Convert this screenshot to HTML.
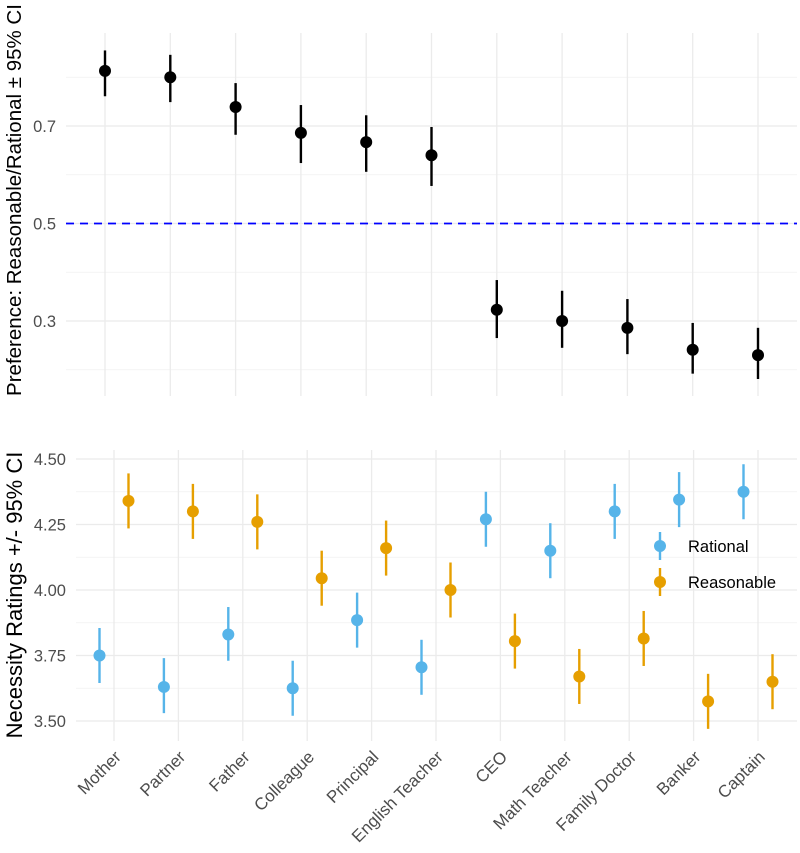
<!DOCTYPE html>
<html><head><meta charset="utf-8"><style>body{margin:0;background:#fff}svg{display:block;font-family:"Liberation Sans",Arial,sans-serif}</style></head>
<body>
<svg id="c" width="800" height="853"></svg>
<script>
const categories=["Mother","Partner","Father","Colleague","Principal","English Teacher","CEO","Math Teacher","Family Doctor","Banker","Captain"];
const prefMean=[0.813,0.800,0.739,0.686,0.667,0.640,0.323,0.300,0.286,0.241,0.230];
const prefLo=[0.761,0.749,0.682,0.624,0.606,0.577,0.265,0.245,0.232,0.192,0.181];
const prefHi=[0.855,0.846,0.788,0.743,0.722,0.698,0.384,0.362,0.345,0.296,0.286];
const ratMean=[3.75,3.63,3.83,3.625,3.885,3.705,4.27,4.15,4.30,4.345,4.375];
const ratLo=[3.645,3.53,3.73,3.52,3.78,3.60,4.165,4.045,4.195,4.24,4.27];
const ratHi=[3.855,3.74,3.935,3.73,3.99,3.81,4.375,4.255,4.405,4.45,4.48];
const reaMean=[4.34,4.30,4.26,4.045,4.16,4.00,3.805,3.67,3.815,3.575,3.65];
const reaLo=[4.235,4.195,4.155,3.94,4.055,3.895,3.70,3.565,3.71,3.47,3.545];
const reaHi=[4.445,4.405,4.365,4.15,4.265,4.105,3.91,3.775,3.92,3.68,3.755];
const topTicks=[0.3,0.5,0.7];
const topMinor=[0.2,0.4,0.6,0.8];
const botTicks=[3.5,3.75,4.0,4.25,4.5];
const botTickLabels=["3.50","3.75","4.00","4.25","4.50"];
const botMinor=[3.625,3.875,4.125,4.375];

const svg=document.getElementById('c');
const NS='http://www.w3.org/2000/svg';
function mk(t,a,p){const e=document.createElementNS(NS,t);for(const k in a)e.setAttribute(k,a[k]);(p||svg).appendChild(e);return e;}
const LT=66,LB=76,R=797;
const xt=i=>105+i*65.3;
const xb=i=>114+i*64.4;
const yT=v=>126+(0.7-v)*487.5;
const yB=v=>721-(v-3.5)*262;

let g=mk('g',{});
topMinor.forEach(v=>mk('line',{x1:LT,x2:R,y1:yT(v),y2:yT(v),stroke:'#f0f0f0','stroke-width':0.8},g));
topTicks.forEach(v=>mk('line',{x1:LT,x2:R,y1:yT(v),y2:yT(v),stroke:'#ebebeb','stroke-width':1.3},g));
categories.forEach((c,i)=>mk('line',{x1:xt(i),x2:xt(i),y1:33,y2:396,stroke:'#ebebeb','stroke-width':1.3},g));
let g2=mk('g',{});
botMinor.forEach(v=>mk('line',{x1:LB,x2:R,y1:yB(v),y2:yB(v),stroke:'#f0f0f0','stroke-width':0.8},g2));
botTicks.forEach(v=>mk('line',{x1:LB,x2:R,y1:yB(v),y2:yB(v),stroke:'#ebebeb','stroke-width':1.3},g2));
categories.forEach((c,i)=>mk('line',{x1:xb(i),x2:xb(i),y1:450,y2:741,stroke:'#ebebeb','stroke-width':1.3},g2));

topTicks.forEach(v=>{const t=mk('text',{x:56,y:yT(v)+6,'text-anchor':'end','font-size':16.5,fill:'#4d4d4d'});t.textContent=v.toFixed(1);
});
botTicks.forEach((v,i)=>{const t=mk('text',{x:66,y:yB(v)+6,'text-anchor':'end','font-size':16.5,fill:'#4d4d4d'});t.textContent=botTickLabels[i];
});

const ref=mk('line',{x1:LT,x2:R,y1:yT(0.5),y2:yT(0.5),stroke:'#0000ff','stroke-width':1.8,'stroke-dasharray':'8,6'});


categories.forEach((c,i)=>{
 const l=mk('line',{x1:xt(i),x2:xt(i),y1:yT(prefLo[i]),y2:yT(prefHi[i]),stroke:'#000','stroke-width':2.4});
 
 const p=mk('circle',{cx:xt(i),cy:yT(prefMean[i]),r:6,fill:'#000'});
 
});
function series(m,lo,hi,dx,col,nm){categories.forEach((c,i)=>{
 const l=mk('line',{x1:xb(i)+dx,x2:xb(i)+dx,y1:yB(lo[i]),y2:yB(hi[i]),stroke:col,'stroke-width':2.4});
 
 const p=mk('circle',{cx:xb(i)+dx,cy:yB(m[i]),r:6,fill:col});
 
});}
series(ratMean,ratLo,ratHi,-14.5,'#56b4e9','rational');
series(reaMean,reaLo,reaHi,14.5,'#e69f00','reasonable');

categories.forEach((c,i)=>{const t=mk('text',{'text-anchor':'end','font-size':17,fill:'#4d4d4d',transform:`translate(${xb(i)+8},${758}) rotate(-45)`});t.textContent=c;
});

let t1=mk('text',{'text-anchor':'middle','font-size':20.5,fill:'#000',transform:'translate(21,200) rotate(-90)'});t1.textContent='Preference: Reasonable/Rational ± 95% CI';

let t2=mk('text',{'text-anchor':'middle','font-size':22,fill:'#000',transform:'translate(22,595) rotate(-90)'});t2.textContent='Necessity Ratings +/- 95% CI';


const lg=mk('g',{});
[['Rational','#56b4e9',546],['Reasonable','#e69f00',582]].forEach(([n,c,y])=>{
 const e=mk('g',{},lg);
 mk('line',{x1:660,x2:660,y1:y-14,y2:y+14,stroke:c,'stroke-width':2.4},e);
 mk('circle',{cx:660,cy:y,r:6,fill:c},e);
 const t=mk('text',{x:688,y:y+6,'font-size':16.5,fill:'#000'},e);t.textContent=n;
});
</script>
</body></html>
